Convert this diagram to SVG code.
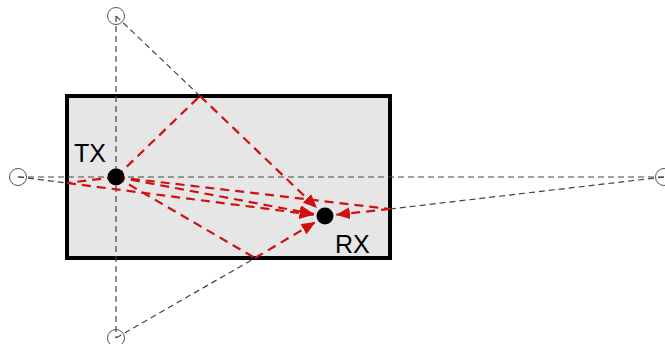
<svg xmlns="http://www.w3.org/2000/svg" width="665" height="344" viewBox="0 0 665 344">
<style>
.room{fill:#e6e6e6;stroke:#000;stroke-width:4}
.g{stroke:#444;stroke-width:1.2;stroke-dasharray:6 4;fill:none}
.r{stroke:#d01010;stroke-width:2.2;stroke-dasharray:9 6;fill:none}
.ra{stroke:#d01010;stroke-width:2.2;stroke-dasharray:9 6;fill:none;marker-end:url(#ah)}
.img{fill:none;stroke:#555;stroke-width:1}
.lbl{font-family:'Liberation Sans',Arial,sans-serif;font-size:25px;fill:#000}
</style>
<defs>
<marker id="ah" markerUnits="userSpaceOnUse" markerWidth="15" markerHeight="12" refX="14" refY="6" orient="auto">
<path d="M0,0 L14,6 L0,12 z" fill="#d01010"/>
</marker>
</defs>
<g id="room"><rect class="room" x="67" y="96" width="323" height="162"/></g>
<g id="connectors">
<line class="g" x1="18" y1="177" x2="664" y2="177"/>
<line class="g" x1="116" y1="16" x2="116" y2="338"/>
<line class="g" x1="116" y1="16" x2="200" y2="96"/>
<line class="g" x1="116" y1="338" x2="255" y2="258"/>
<line class="g" x1="18" y1="177" x2="67" y2="183"/>
<line class="g" x1="664" y1="177" x2="390" y2="209"/>
<line class="r" x1="116" y1="177" x2="200" y2="96"/>
<line class="ra" x1="200" y1="96" x2="317" y2="208"/>
<line class="r" x1="116" y1="177" x2="255" y2="258"/>
<line class="ra" x1="255" y1="258" x2="315.5" y2="222"/>
<line class="r" x1="116" y1="177" x2="67" y2="183"/>
<line class="ra" x1="67" y1="183" x2="313.5" y2="214.8"/>
<line class="r" x1="116" y1="177" x2="390" y2="209"/>
<line class="ra" x1="390" y1="209" x2="336" y2="214.8"/>
<line class="ra" x1="116" y1="177" x2="314" y2="214"/>
</g>
<g id="img-left"><circle class="img" cx="18" cy="177" r="8.5"/></g>
<g id="img-right"><circle class="img" cx="664" cy="177" r="8.5"/></g>
<g id="img-top"><circle class="img" cx="116" cy="16" r="8.5"/></g>
<g id="img-bottom"><circle class="img" cx="116" cy="338" r="8.5"/></g>
<g id="tx"><circle cx="116" cy="177" r="8.5" fill="#000"/><text class="lbl" x="74" y="162">TX</text></g>
<g id="rx"><circle cx="325" cy="216" r="8.5" fill="#000"/><text class="lbl" x="335" y="253">RX</text></g>
</svg>
